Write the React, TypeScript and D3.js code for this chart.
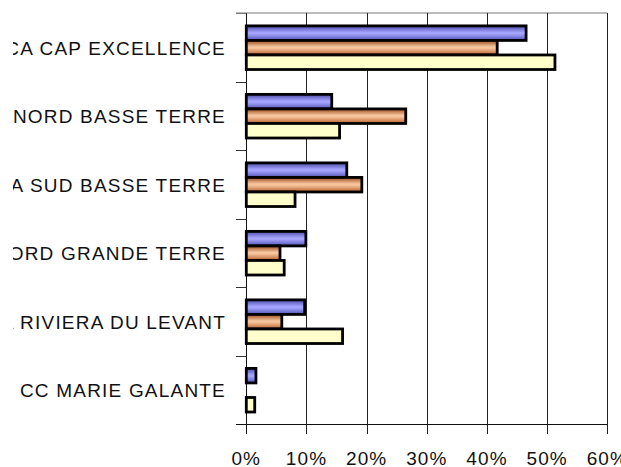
import React from "react";
import * as d3 from "d3";

const categories = [
  "CA CAP EXCELLENCE",
  "CA NORD BASSE TERRE",
  "CA SUD BASSE TERRE",
  "CA NORD GRANDE TERRE",
  "CA RIVIERA DU LEVANT",
  "CC MARIE GALANTE",
];
const seriesNames = ["s1", "s2", "s3"];
const series1 = [0.465, 0.142, 0.167, 0.099, 0.097, 0.016];
const series2 = [0.417, 0.265, 0.192, 0.056, 0.059, 0];
const series3 = [0.513, 0.155, 0.081, 0.063, 0.16, 0.014];
const xTicks = [0, 0.1, 0.2, 0.3, 0.4, 0.5, 0.6];

const W = 621;
const H = 467;
const left = 246.3;
const right = 607.3;
const top = 13;
const bottom = 424;

export default function App() {
  const x = d3.scaleLinear().domain([0, 0.6]).range([left, right]);
  const y0 = d3.scaleBand<string>().domain(categories).range([top, bottom]).padding(0);
  const bw = y0.bandwidth();
  const y1 = d3
    .scaleBand<string>()
    .domain(seriesNames)
    .range([bw * 0.188, bw * 0.825])
    .padding(0);
  const data = [series1, series2, series3];
  const fills = ["url(#gBlue)", "url(#gOrange)", "#ffffcc"];
  const font = "'Liberation Sans', Arial, Helvetica, sans-serif";
  const boundaries = categories.map((c) => y0(c)!).concat([bottom]);

  return (
    <svg
      width={W}
      height={H}
      style={{ position: "absolute", left: 0, top: 0, background: "#fff" }}
    >
      <defs>
        <linearGradient id="gBlue" x1="0" y1="0" x2="0" y2="1">
          <stop offset="0" stopColor="#4a4aa8" />
          <stop offset="0.45" stopColor="#a4a4ff" />
          <stop offset="0.55" stopColor="#a4a4ff" />
          <stop offset="1" stopColor="#5050b0" />
        </linearGradient>
        <linearGradient id="gOrange" x1="0" y1="0" x2="0" y2="1">
          <stop offset="0" stopColor="#9a4a1c" />
          <stop offset="0.45" stopColor="#f8c8a0" />
          <stop offset="0.55" stopColor="#f4c098" />
          <stop offset="1" stopColor="#b8602c" />
        </linearGradient>
        <clipPath id="labelClip">
          <rect x={13} y={0} width={W - 13} height={H} />
        </clipPath>
      </defs>

      {/* top border */}
      <line x1={236} x2={right} y1={top} y2={top} stroke="#777" strokeWidth={1} />
      {/* vertical gridlines */}
      {xTicks.slice(1).map((t) => (
        <line
          key={"g" + t}
          x1={Math.round(x(t)) + 0.5}
          x2={Math.round(x(t)) + 0.5}
          y1={top}
          y2={bottom + 10}
          stroke="#222"
          strokeWidth={1}
        />
      ))}
      {/* y axis */}
      <line
        x1={Math.round(left) + 0.5}
        x2={Math.round(left) + 0.5}
        y1={top}
        y2={bottom + 10}
        stroke="#111"
        strokeWidth={1}
      />
      {boundaries.map((b, i) => (
        <line
          key={"yt" + i}
          x1={236}
          x2={left}
          y1={Math.round(b) + 0.5}
          y2={Math.round(b) + 0.5}
          stroke={i === 0 ? "#777" : "#333"}
          strokeWidth={1}
        />
      ))}
      {/* x axis */}
      <line
        x1={236}
        x2={right}
        y1={bottom + 0.5}
        y2={bottom + 0.5}
        stroke="#111"
        strokeWidth={1}
      />

      {/* bars */}
      {categories.map((c, ci) =>
        seriesNames.map((s, si) => {
          const v = data[si][ci];
          if (!v) return null;
          return (
            <rect
              key={c + s}
              x={x(0)}
              y={y0(c)! + y1(s)!}
              width={x(v) - x(0)}
              height={y1.bandwidth()}
              fill={fills[si]}
              stroke="#000"
              strokeWidth={2.8}
            />
          );
        })
      )}

      {/* category labels (clipped at the left like the reference) */}
      <g clipPath="url(#labelClip)">
        {categories.map((c) => (
          <text
            key={"l" + c}
            x={226}
            y={y0(c)! + bw / 2 + 7.5}
            textAnchor="end"
            fontFamily={font}
            fontSize={19}
            letterSpacing={1.2}
            fill="#111"
          >
            {c}
          </text>
        ))}
      </g>

      {/* x tick labels */}
      {xTicks.map((t) => (
        <text
          key={"xt" + t}
          x={x(t)}
          y={465}
          textAnchor="middle"
          fontFamily={font}
          fontSize={19}
          letterSpacing={1.1}
          fill="#111"
        >
          {d3.format(".0%")(t)}
        </text>
      ))}
    </svg>
  );
}
